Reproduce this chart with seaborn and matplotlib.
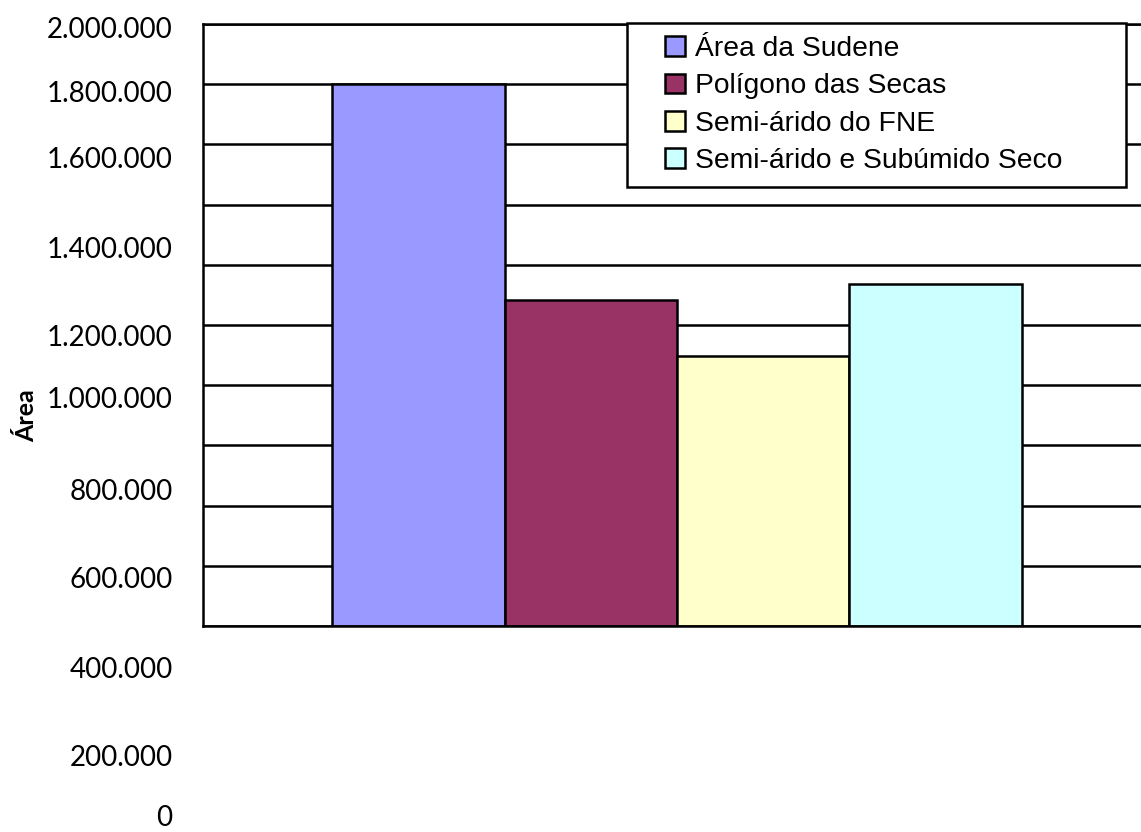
import pandas as pd
import matplotlib
matplotlib.use('Agg')
import matplotlib.pyplot as plt
import seaborn as sns
from matplotlib.patches import Rectangle

# Data
regioes = ['Área da Sudene', 'Polígono das Secas', 'Semi-árido do FNE', 'Semi-árido e Subúmido Seco']
areas = [1800000, 1083000, 896000, 1136000]
cores = ['#9999FF', '#993366', '#FFFFCC', '#CCFFFF']
ticks = [0, 200000, 400000, 600000, 800000, 1000000, 1200000, 1400000, 1600000, 1800000, 2000000]
tick_labels = ['{:,}'.format(v).replace(',', '.') for v in ticks]

df = pd.DataFrame({'grupo': [''] * len(regioes), 'regiao': regioes, 'area': areas})

sns.set_style('white')
plt.rcParams['font.family'] = ['Liberation Sans', 'DejaVu Sans']
plt.rcParams['text.color'] = 'black'
plt.rcParams['ytick.color'] = 'black'

W, H = 1141, 832
fig = plt.figure(figsize=(W / 100, H / 100), dpi=100)

# plot area in pixels (left, top, right, bottom)
pl, pt, pr, pb = 203, 24, 1141, 626
ax = fig.add_axes([pl / W, 1 - pb / H, (pr - pl) / W, (pb - pt) / H])

sns.barplot(data=df, x='grupo', y='area', hue='regiao', palette=cores, saturation=1,
            width=0.8, gap=0, edgecolor='black', linewidth=1.8, ax=ax)

ax.set_xlim(-0.5496, 0.538)
ax.set_ylim(0, 2000000)
ax.set_yticks(ticks)
ax.set_yticklabels([])
ax.set_xticks([])
ax.set_xlabel('')
ax.set_ylabel('')
ax.tick_params(length=0)
ax.yaxis.grid(True, color='black', linewidth=1.8)
ax.set_axisbelow(True)
for s in ['left', 'top', 'bottom']:
    ax.spines[s].set_color('black')
    ax.spines[s].set_linewidth(1.8)
ax.spines['right'].set_visible(False)

# tick labels in the old Excel layout (spread below the plot area)
label_px = [815, 756, 667, 578, 489, 398, 336, 247, 157, 92, 27]
axl = fig.add_axes([pl / W, 0, 0.0001, 1])
axl.set_ylim(H, 0)
axl.set_yticks(label_px)
axl.set_yticklabels(tick_labels, fontfamily='Lato', fontsize=20, color='black')
axl.tick_params(length=0, pad=22)
axl.set_xticks([])
for s in axl.spines.values():
    s.set_visible(False)
axl.patch.set_alpha(0)
fig.text(27 / W, 1 - 416 / H, 'Área', rotation=90, fontweight='bold', fontfamily='Lato',
         fontsize=18, ha='center', va='center', color='black')

# legend box (white, covers the grid) and legend entries
box = Rectangle((627 / W, 1 - 187 / H), (1126 - 627) / W, (187 - 23) / H,
                transform=fig.transFigure, facecolor='white', edgecolor='black',
                linewidth=1.8, zorder=4, clip_on=False)
ax.add_patch(box)
leg = ax.legend(loc='upper left', bbox_to_anchor=(665 / W, 1 - 36 / H),
                bbox_transform=fig.transFigure, borderaxespad=0, borderpad=0,
                fontsize=20.3, frameon=False, handlelength=0.7, handleheight=0.7,
                handletextpad=0.35, labelspacing=0.4)
for t in leg.get_texts():
    t.set_color('black')
leg.set_zorder(6)

fig.savefig('out.png', dpi=100)
